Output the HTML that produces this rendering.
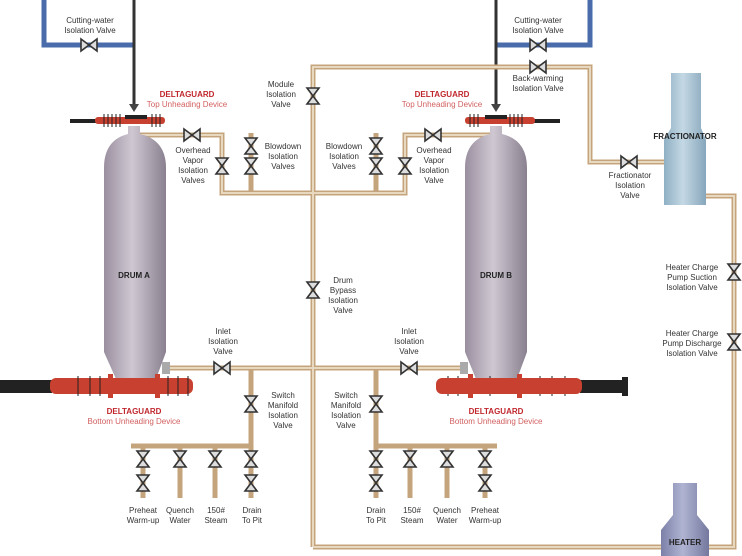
<!DOCTYPE html>
<html><head><meta charset="utf-8"><style>
html,body{margin:0;padding:0;background:#fff;}
svg{display:block;font-family:"Liberation Sans",sans-serif;}
.l{font-size:8px;fill:#333;text-anchor:middle;}
.r{font-size:8px;fill:#c0272d;font-weight:bold;text-anchor:middle;}
.r2{font-size:8px;fill:#d26060;text-anchor:middle;}
.b{font-size:8px;font-weight:bold;fill:#222;text-anchor:middle;}
.p{fill:none;stroke:#c4a47c;stroke-width:5;}
.p2{fill:none;stroke:#e8d8c0;stroke-width:2;}
.bl{fill:none;stroke:#4a6cab;stroke-width:5;}
</style></head><body>
<svg width="742" height="556" viewBox="0 0 742 556">
<defs>
<linearGradient id="dg" x1="0" x2="1"><stop offset="0" stop-color="#9a8f9f"/><stop offset=".45" stop-color="#cfc8d2"/><stop offset="1" stop-color="#8a8090"/></linearGradient>
<linearGradient id="fg" x1="0" x2="1"><stop offset="0" stop-color="#8fb0c4"/><stop offset=".45" stop-color="#c4d8e4"/><stop offset="1" stop-color="#86a6bb"/></linearGradient>
<linearGradient id="hg" x1="0" x2="1"><stop offset="0" stop-color="#7c80a8"/><stop offset=".45" stop-color="#b0b4d2"/><stop offset="1" stop-color="#74789e"/></linearGradient>
<g id="vh"><path d="M-8,-6 L8,6 L8,-6 L-8,6 Z" fill="#ddd" stroke="#333" stroke-width="1.6"/></g>
<g id="vv"><path d="M-6,-8 L6,8 L-6,8 L6,-8 Z" fill="#ddd" stroke="#333" stroke-width="1.6"/></g>
</defs>

<path class="bl" d="M44,0 V45 H134"/>
<path class="bl" d="M496,45 H590 V0"/>
<line x1="134" y1="0" x2="134" y2="106" stroke="#333" stroke-width="3"/>
<line x1="496" y1="0" x2="496" y2="106" stroke="#333" stroke-width="3"/>
<path d="M129,104 h10 l-5,8z" fill="#444"/><path d="M491,104 h10 l-5,8z" fill="#444"/>
<use href="#vh" x="89" y="45"/><use href="#vh" x="538" y="45"/>

<path class="p" d="M313,547 V67 H590 V162 H665"/>
<path class="p" d="M706,196 H734 V547 H705"/>
<path class="p" d="M661,547 H313"/>
<path class="p" d="M140,135 H222 V193 H405 V135 H490"/>
<path class="p" d="M251,133 V193 M376,133 V193"/>
<path class="p" d="M166,368 H465"/>
<path class="p" d="M251,368 V446 H131 M376,368 V446 H497"/>
<path class="p" d="M143,446 V498 M180,446 V498 M215,446 V498 M251,446 V498 M376,446 V498 M410,446 V498 M447,446 V498 M485,446 V498"/>
<path class="p2" d="M313,547 V67 H590 V162 H665 M140,135 H222 V193 H405 V135 H490 M166,368 H465 M706,196 H734 V547 H705 M661,547 H313"/>

<use href="#vv" x="313" y="96"/><use href="#vv" x="313" y="290"/>
<use href="#vh" x="538" y="67"/><use href="#vh" x="629" y="162"/>
<use href="#vh" x="192" y="135"/><use href="#vh" x="433" y="135"/>
<use href="#vv" x="222" y="166"/><use href="#vv" x="405" y="166"/>
<use href="#vv" x="251" y="146"/><use href="#vv" x="251" y="166"/>
<use href="#vv" x="376" y="146"/><use href="#vv" x="376" y="166"/>
<use href="#vh" x="222" y="368"/><use href="#vh" x="409" y="368"/>
<use href="#vv" x="251" y="404"/><use href="#vv" x="376" y="404"/>
<use href="#vv" x="734" y="272"/><use href="#vv" x="734" y="342"/>
<use href="#vv" x="143" y="459"/><use href="#vv" x="143" y="483"/>
<use href="#vv" x="180" y="459"/><use href="#vv" x="215" y="459"/>
<use href="#vv" x="251" y="459"/><use href="#vv" x="251" y="483"/>
<use href="#vv" x="376" y="459"/><use href="#vv" x="376" y="483"/>
<use href="#vv" x="410" y="459"/><use href="#vv" x="447" y="459"/>
<use href="#vv" x="485" y="459"/><use href="#vv" x="485" y="483"/>

<path d="M128,126 h12 v8 q26,6 26,34 V352 L156,379 H116 L104,352 V168 q0,-28 24,-34z" fill="url(#dg)"/>
<path d="M490,126 h12 v8 q25,6 25,34 V352 L517,379 H476 L465,352 V168 q0,-28 25,-34z" fill="url(#dg)"/>
<rect x="162" y="362" width="8" height="12" fill="#aaa"/><rect x="460" y="362" width="8" height="12" fill="#aaa"/>
<rect x="70" y="119" width="30" height="4" fill="#222"/>
<rect x="95" y="117" width="70" height="7" rx="3" fill="#c8402f"/>
<rect x="125" y="115" width="22" height="4" fill="#222"/>
<g stroke="#222" stroke-width="1"><path d="M104,114v13M108,114v13M112,114v13M116,114v13M120,114v13M152,114v13M156,114v13M160,114v13"/></g>
<rect x="530" y="119" width="30" height="4" fill="#222"/>
<rect x="465" y="117" width="70" height="7" rx="3" fill="#c8402f"/>
<rect x="485" y="115" width="22" height="4" fill="#222"/>
<g stroke="#222" stroke-width="1"><path d="M470,114v13M474,114v13M478,114v13M510,114v13M514,114v13M518,114v13M522,114v13"/></g>
<rect x="0" y="380" width="52" height="13" fill="#222"/>
<rect x="50" y="378" width="143" height="16" rx="6" fill="#c8402f"/>
<g stroke="#222" stroke-width="1"><path d="M78,376v20M90,376v20M100,376v20M168,376v20M178,376v20M188,376v20M448,376v20M458,376v20M490,376v20M540,376v20M552,376v20M565,376v20"/></g>
<rect x="108" y="374" width="5" height="24" fill="#c8402f"/><rect x="155" y="374" width="5" height="24" fill="#c8402f"/>
<rect x="580" y="380" width="48" height="13" fill="#222"/><rect x="622" y="377" width="6" height="19" fill="#222"/>
<rect x="436" y="378" width="146" height="16" rx="6" fill="#c8402f"/>
<rect x="468" y="374" width="5" height="24" fill="#c8402f"/><rect x="517" y="374" width="5" height="24" fill="#c8402f"/>

<path d="M671,73 h30 v55 l5,12 v65 h-42 v-65 l7,-12z" fill="url(#fg)"/>
<path d="M673,483 h24 v32 l12,15 v26 h-48 v-26 l12,-15z" fill="url(#hg)"/>

<text class="l" x="90" y="23">Cutting-water</text><text class="l" x="90" y="33">Isolation Valve</text>
<text class="l" x="538" y="23">Cutting-water</text><text class="l" x="538" y="33">Isolation Valve</text>
<text class="l" x="538" y="81">Back-warming</text><text class="l" x="538" y="91">Isolation Valve</text>
<text class="r" x="187" y="97">DELTAGUARD</text><text class="r2" x="187" y="107">Top Unheading Device</text>
<text class="r" x="442" y="97">DELTAGUARD</text><text class="r2" x="442" y="107">Top Unheading Device</text>
<text class="l" x="281" y="87">Module</text><text class="l" x="281" y="97">Isolation</text><text class="l" x="281" y="107">Valve</text>
<text class="l" x="193" y="153">Overhead</text><text class="l" x="193" y="163">Vapor</text><text class="l" x="193" y="173">Isolation</text><text class="l" x="193" y="183">Valves</text>
<text class="l" x="434" y="153">Overhead</text><text class="l" x="434" y="163">Vapor</text><text class="l" x="434" y="173">Isolation</text><text class="l" x="434" y="183">Valve</text>
<text class="l" x="283" y="149">Blowdown</text><text class="l" x="283" y="159">Isolation</text><text class="l" x="283" y="169">Valves</text>
<text class="l" x="344" y="149">Blowdown</text><text class="l" x="344" y="159">Isolation</text><text class="l" x="344" y="169">Valves</text>
<text class="b" x="685" y="139">FRACTIONATOR</text>
<text class="l" x="630" y="178">Fractionator</text><text class="l" x="630" y="188">Isolation</text><text class="l" x="630" y="198">Valve</text>
<text class="b" x="134" y="278">DRUM A</text><text class="b" x="496" y="278">DRUM B</text>
<text class="l" x="343" y="283">Drum</text><text class="l" x="343" y="293">Bypass</text><text class="l" x="343" y="303">Isolation</text><text class="l" x="343" y="313">Valve</text>
<text class="l" x="692" y="270">Heater Charge</text><text class="l" x="692" y="280">Pump Suction</text><text class="l" x="692" y="290">Isolation Valve</text>
<text class="l" x="692" y="336">Heater Charge</text><text class="l" x="692" y="346">Pump Discharge</text><text class="l" x="692" y="356">Isolation Valve</text>
<text class="l" x="223" y="334">Inlet</text><text class="l" x="223" y="344">Isolation</text><text class="l" x="223" y="354">Valve</text>
<text class="l" x="409" y="334">Inlet</text><text class="l" x="409" y="344">Isolation</text><text class="l" x="409" y="354">Valve</text>
<text class="l" x="283" y="398">Switch</text><text class="l" x="283" y="408">Manifold</text><text class="l" x="283" y="418">Isolation</text><text class="l" x="283" y="428">Valve</text>
<text class="l" x="346" y="398">Switch</text><text class="l" x="346" y="408">Manifold</text><text class="l" x="346" y="418">Isolation</text><text class="l" x="346" y="428">Valve</text>
<text class="r" x="134" y="414">DELTAGUARD</text><text class="r2" x="134" y="424">Bottom Unheading Device</text>
<text class="r" x="496" y="414">DELTAGUARD</text><text class="r2" x="496" y="424">Bottom Unheading Device</text>
<text class="l" x="143" y="513">Preheat</text><text class="l" x="143" y="523">Warm-up</text>
<text class="l" x="180" y="513">Quench</text><text class="l" x="180" y="523">Water</text>
<text class="l" x="216" y="513">150#</text><text class="l" x="216" y="523">Steam</text>
<text class="l" x="252" y="513">Drain</text><text class="l" x="252" y="523">To Pit</text>
<text class="l" x="376" y="513">Drain</text><text class="l" x="376" y="523">To Pit</text>
<text class="l" x="412" y="513">150#</text><text class="l" x="412" y="523">Steam</text>
<text class="l" x="447" y="513">Quench</text><text class="l" x="447" y="523">Water</text>
<text class="l" x="485" y="513">Preheat</text><text class="l" x="485" y="523">Warm-up</text>
<text class="b" x="685" y="545">HEATER</text>
</svg>
</body></html>
